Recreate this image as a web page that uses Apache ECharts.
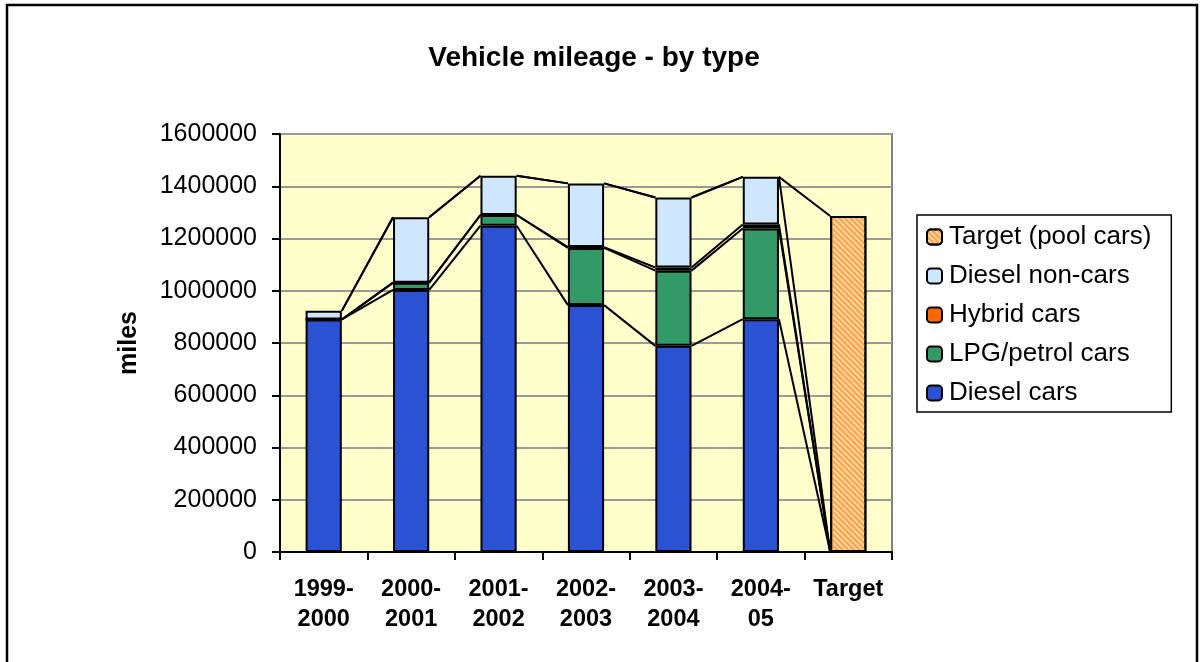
<!DOCTYPE html>
<html>
<head>
<meta charset="utf-8">
<script src="https://cdn.jsdelivr.net/npm/echarts@6/dist/echarts.min.js"></script>
<style>
html,body{margin:0;padding:0;background:#fff;}
#chart{width:1204px;height:662px;}
</style>
</head>
<body>
<div id="chart"></div>
<script>
// ---- data ----
var categories = ['1999-\n2000', '2000-\n2001', '2001-\n2002', '2002-\n2003', '2003-\n2004', '2004-\n05', 'Target'];
var dieselCars   = [890000, 1003000, 1249000, 945000, 789000, 891000, null];
var lpgCars      = [0, 28000, 41000, 219000, 288000, 347000, null];
var hybridCars   = [0, 0, 0, 3000, 12000, 16000, null];
var dieselNonCars = [33000, 250000, 150000, 244000, 268000, 182000, null];
var targetPool   = [null, null, null, null, null, null, 1286000];
var yTicks = [0, 200000, 400000, 600000, 800000, 1000000, 1200000, 1400000, 1600000];

var FONT = '"Liberation Sans", Arial, sans-serif';
var BAR_FRAC = 0.414;

// cumulative levels for series lines
var seriesList = [dieselCars, lpgCars, hybridCars, dieselNonCars, targetPool];
var cum = seriesList.map(function (_, k) {
  return categories.map(function (_, i) {
    var s = 0;
    for (var j = 0; j <= k; j++) s += (seriesList[j][i] || 0);
    return s;
  });
});

var chart = echarts.init(document.getElementById('chart'));
var border = { borderColor: '#000', borderWidth: 2 };

function barSeries(name, data, color, extra) {
  var st = Object.assign({ color: color }, border, extra || {});
  return {
    name: name, type: 'bar', stack: 'total', data: data,
    barWidth: (BAR_FRAC * 100) + '%', itemStyle: st, z: 3
  };
}

var option = {
  animation: false,
  backgroundColor: '#fff',
  title: {
    text: 'Vehicle mileage - by type',
    left: 594, top: 44, textAlign: 'center', padding: 0,
    textStyle: { fontFamily: FONT, fontSize: 28, fontWeight: 'bold', color: '#000' }
  },
  legend: {
    orient: 'vertical',
    left: 917, top: 215,
    width: 252,
    padding: [9, 20, 6, 9],
    borderColor: '#000', borderWidth: 1.5,
    backgroundColor: '#fff',
    itemWidth: 15, itemHeight: 15, itemGap: 13,
    data: ['Target (pool cars)', 'Diesel non-cars', 'Hybrid cars', 'LPG/petrol cars', 'Diesel cars'],
    textStyle: { fontFamily: FONT, fontSize: 26, color: '#000', padding: [0, 0, 0, 2] }
  },
  grid: {
    left: 280, right: 312, top: 134, bottom: 110,
    show: true, backgroundColor: '#FFFFCC', borderColor: '#808080', borderWidth: 2
  },
  xAxis: {
    type: 'category', data: categories,
    axisLine: { lineStyle: { color: '#000', width: 2 } },
    axisTick: { show: true, length: 8, lineStyle: { color: '#000', width: 2 } },
    axisLabel: { interval: 0, fontFamily: FONT, fontSize: 23.5, fontWeight: 'bold', color: '#000', lineHeight: 30, margin: 23 }
  },
  yAxis: {
    type: 'value', min: yTicks[0], max: yTicks[yTicks.length - 1], interval: yTicks[1] - yTicks[0],
    name: 'miles', nameLocation: 'middle', nameRotate: 90, nameGap: 138,
    nameTextStyle: { fontFamily: FONT, fontSize: 25, fontWeight: 'bold', color: '#000' },
    axisLine: { show: true, lineStyle: { color: '#000', width: 2 } },
    axisTick: { show: true, length: 8, lineStyle: { color: '#000', width: 2 } },
    splitLine: { show: true, lineStyle: { color: '#999', width: 2 } },
    axisLabel: { fontFamily: FONT, fontSize: 25, color: '#000', margin: 23, formatter: function (v) { return String(v); } }
  },
  series: [
    barSeries('Diesel cars', dieselCars, '#2A52D2'),
    barSeries('LPG/petrol cars', lpgCars, '#339966'),
    barSeries('Hybrid cars', hybridCars, '#FF6600'),
    barSeries('Diesel non-cars', dieselNonCars, '#CFE6FF'),
    barSeries('Target (pool cars)', targetPool, '#FFD8A8', {
      decal: { color: '#FFA040', symbol: 'rect', dashArrayX: [1, 0], dashArrayY: [2, 2], rotation: Math.PI / 4 }
    }),
    {
      type: 'custom', name: 'serieslines', coordinateSystem: 'cartesian2d',
      silent: true, z: 4,
      data: categories.slice(0, categories.length - 1).map(function (c, i) { return [i, 0]; }),
      encode: { x: 0, y: 1 },
      renderItem: function (params, api) {
        var i = params.dataIndex;
        var half = api.size([1, 0])[0] * BAR_FRAC / 2;
        var x0 = api.coord([i, 0])[0] + half;
        var x1 = api.coord([i + 1, 0])[0] - half;
        var children = cum.map(function (lev) {
          return {
            type: 'line',
            shape: { x1: x0, y1: api.coord([i, lev[i]])[1], x2: x1, y2: api.coord([i + 1, lev[i + 1]])[1] },
            style: { stroke: '#000', lineWidth: 2 }
          };
        });
        return { type: 'group', children: children };
      }
    }
  ],
  graphic: [
    { type: 'rect', shape: { x: 7, y: 5, width: 1190, height: 700 }, style: { fill: 'none', stroke: '#000', lineWidth: 2.5 }, z: 100 }
  ]
};
chart.setOption(option);
</script>
</body>
</html>
